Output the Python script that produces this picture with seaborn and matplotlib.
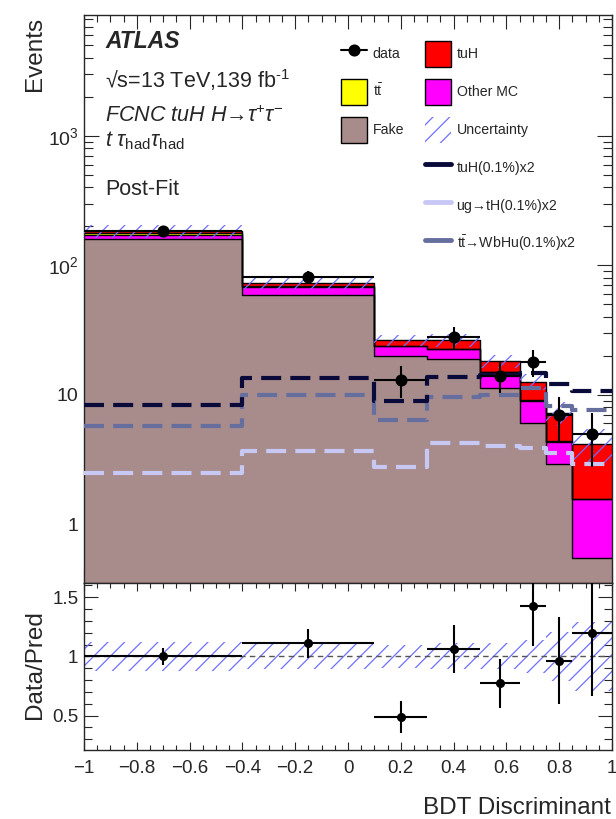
import numpy as np
import pandas as pd
import matplotlib
matplotlib.use("Agg")
import matplotlib.pyplot as plt
import seaborn as sns
from matplotlib.patches import Patch
from matplotlib.lines import Line2D
from matplotlib.ticker import (FixedLocator, FixedFormatter, MultipleLocator,
                               FuncFormatter, NullFormatter, LogLocator)

# ---------------- data ----------------
bin_edges = [-1.0, -0.4, 0.1, 0.3, 0.5, 0.65, 0.75, 0.85, 1.0]
data_counts = [184, 81, 13, 28, 14, 18, 7, 5]

# post-fit background / signal stack (events per bin)
fake = [160.0, 59.3, 20.0, 18.8, 11.2, 6.0, 2.9, 0.55]
other_mc = [12.0, 8.1, 3.6, 3.7, 3.7, 3.0, 1.4, 1.0]
ttbar = [6.0, 2.3, 0.3, 0.2, 0.1, 0.1, 0.05, 0.02]
tuh = [6.0, 3.3, 2.6, 3.6, 3.1, 3.5, 2.9, 2.6]

# relative total uncertainty of the prediction
rel_unc = [0.12, 0.105, 0.10, 0.11, 0.11, 0.14, 0.21, 0.29]

# signal templates, BR = 0.1 %, scaled by 2
sig_tuh = [8.3, 13.4, 9.0, 13.8, 14.3, 14.8, 12.1, 10.6]
sig_ugth = [2.5, 3.64, 2.74, 4.23, 4.03, 3.87, 3.54, 2.92]
sig_ttwbhu = [5.75, 9.86, 6.4, 9.58, 9.98, 11.2, 8.2, 7.6]

process_names = ["Fake", "Other MC", "tt", "tuH"]
process_colors = {"Fake": "#A88C8C", "Other MC": "#FF00FF",
                  "tt": "#FFFF00", "tuH": "#FF0000"}
hatch_color = "#6f6fff"
col_tuh = "#0a0a3a"
col_ugth = "#c8c8f5"
col_ttwbhu = "#666e9e"

# ---------------- style ----------------
sns.set_style("ticks")
plt.rcParams["font.family"] = ["Liberation Sans", "DejaVu Sans"]
plt.rcParams["mathtext.fontset"] = "custom"
plt.rcParams["mathtext.rm"] = "Liberation Sans"
plt.rcParams["mathtext.it"] = "Liberation Sans:italic"
plt.rcParams["mathtext.bf"] = "Liberation Sans:bold"
plt.rcParams["hatch.linewidth"] = 0.9
plt.rcParams["axes.linewidth"] = 1.0

edges = np.array(bin_edges)
centers = 0.5 * (edges[1:] + edges[:-1])
half_w = 0.5 * (edges[1:] - edges[:-1])
data = np.array(data_counts, dtype=float)
components = {"Fake": fake, "Other MC": other_mc, "tt": ttbar, "tuH": tuh}
total = np.sum([np.array(v) for v in components.values()], axis=0)
unc = np.array(rel_unc)

stack_df = pd.DataFrame({
    "bdt": np.tile(centers, len(process_names)),
    "events": np.concatenate([components[p] for p in process_names]),
    "process": np.repeat(process_names, len(centers)),
})

fig = plt.figure(figsize=(6.16, 8.19), dpi=100)
W, H = 616.0, 819.0
ax = fig.add_axes([84 / W, 1 - 583 / H, 528 / W, 568 / H])
axr = fig.add_axes([84 / W, 1 - 750 / H, 528 / W, 167 / H])

# ---------------- main panel ----------------
ax.set_yscale("log")
sns.histplot(data=stack_df, x="bdt", weights="events", hue="process",
             hue_order=process_names[::-1], multiple="stack", bins=bin_edges,
             palette=process_colors, element="bars", alpha=1.0,
             linewidth=0, legend=False, ax=ax)

# black step outline on top of each stacked component
running = np.zeros(len(centers))
for p in process_names:
    running = running + np.array(components[p])
    sns.histplot(x=list(centers), weights=list(running), bins=bin_edges,
                 element="step", fill=False, color="black", linewidth=1.0,
                 ax=ax, zorder=2.5)

band_lo = total * (1 - unc)
band_hi = total * (1 + unc)
ax.fill_between(edges, np.r_[band_lo, band_lo[-1]], np.r_[band_hi, band_hi[-1]],
                step="post", facecolor="none", edgecolor=hatch_color,
                hatch="//", linewidth=0, zorder=3)

dash = (0, (4.8, 2.2))
for vals, col in [(sig_ttwbhu, col_ttwbhu), (sig_ugth, col_ugth), (sig_tuh, col_tuh)]:
    sns.histplot(x=list(centers), weights=vals, bins=bin_edges, element="step",
                 fill=False, color=col, linewidth=3.0, linestyle=dash, ax=ax,
                 zorder=4)

ax.errorbar(centers, data, xerr=half_w, yerr=np.sqrt(data), fmt="o",
            color="black", markersize=7.7, elinewidth=1.5, capsize=0, zorder=6)

ax.set_xlim(-1, 1)
ax.set_ylim(0.35, 8600)
ax.set_xlabel("")
ax.set_ylabel("")
ax.yaxis.set_major_locator(FixedLocator([1, 10, 100, 1000]))
ax.yaxis.set_major_formatter(FixedFormatter(["1", "10", "10$^{2}$", "10$^{3}$"]))
ax.yaxis.set_minor_locator(LogLocator(base=10, subs=np.arange(2, 10), numticks=20))
ax.yaxis.set_minor_formatter(NullFormatter())
ax.xaxis.set_major_locator(MultipleLocator(0.2))
ax.xaxis.set_minor_locator(MultipleLocator(0.05))
ax.tick_params(which="both", direction="in", top=True, right=True, width=0.8)
ax.tick_params(axis="x", which="major", length=10, labelbottom=False)
ax.tick_params(axis="x", which="minor", length=5)
ax.tick_params(axis="y", which="major", length=11, labelsize=14, pad=4)
ax.tick_params(axis="y", which="minor", length=6.5)

# ---------------- ratio panel ----------------
axr.fill_between(edges, np.r_[1 - unc, 1 - unc[-1]], np.r_[1 + unc, 1 + unc[-1]],
                 step="post", facecolor="none", edgecolor=hatch_color,
                 hatch="//", linewidth=0, zorder=2)
axr.axhline(1.0, color="#555555", linestyle=(0, (4, 3)), linewidth=1.0, zorder=3)
ratio = data / total
ratio_err = np.sqrt(data) / total
axr.errorbar(centers, ratio, xerr=half_w, yerr=ratio_err, fmt="o",
             color="black", markersize=5.5, elinewidth=1.5, capsize=0, zorder=5)
axr.set_xlim(-1, 1)
axr.set_ylim(0.21, 1.62)
axr.yaxis.set_major_locator(FixedLocator([0.5, 1.0, 1.5]))
axr.yaxis.set_major_formatter(FuncFormatter(lambda v, p: f"{v:g}"))
axr.yaxis.set_minor_locator(MultipleLocator(0.1))
axr.xaxis.set_major_locator(MultipleLocator(0.2))
axr.xaxis.set_minor_locator(MultipleLocator(0.05))
axr.xaxis.set_major_formatter(
    FuncFormatter(lambda v, p: f"{round(v, 6):g}".replace("-", "\u2212")))
axr.tick_params(which="both", direction="in", top=True, right=True, width=0.8)
axr.tick_params(axis="x", which="major", length=6, labelsize=13.5, pad=7)
axr.tick_params(axis="x", which="minor", length=3.3)
axr.tick_params(axis="y", which="major", length=10, labelsize=13.5, pad=4)
axr.tick_params(axis="y", which="minor", length=5.5)

# ---------------- axis titles ----------------
fig.text(35 / W, 1 - 17 / H, "Events", rotation=90, ha="center", va="top",
         fontsize=17.5)
fig.text(35 / W, 1 - 665 / H, "Data/Pred", rotation=90, ha="center",
         va="center", fontsize=17.5)
fig.text(611 / W, 1 - 814 / H, "BDT Discriminant", ha="right",
         va="baseline", fontsize=17.5)

# ---------------- labels ----------------
fig.text(105 / W, 1 - 48 / H, "ATLAS", fontsize=16.5, weight="bold",
         style="italic", va="baseline")
fig.text(105 / W, 1 - 88 / H, "\u221as=13 TeV,139 fb$^{\\text{-1}}$",
         fontsize=15.5, va="baseline")
fig.text(105 / W, 1 - 122 / H, "FCNC tuH H\u2192\u03c4$^{+}$\u03c4$^{-}$",
         fontsize=15.5, style="italic", va="baseline")
fig.text(105 / W, 1 - 146 / H, r"$t\ \tau_{\mathrm{had}}\tau_{\mathrm{had}}$",
         fontsize=15.5, va="baseline")
fig.text(105 / W, 1 - 195 / H, "Post-Fit", fontsize=15.5, va="baseline")

# ---------------- legends ----------------
leg_fs = 10.2
leg_kw = dict(frameon=False, fontsize=leg_fs, handlelength=1.83,
              handleheight=2.44, labelspacing=0.85, handletextpad=0.4,
              borderpad=0, borderaxespad=0, loc="upper left")
h_data = Line2D([], [], color="black", marker="o", markersize=7.7, linewidth=1.5)
h_tt = Patch(facecolor=process_colors["tt"], edgecolor="black", linewidth=1)
h_fake = Patch(facecolor=process_colors["Fake"], edgecolor="black", linewidth=1)
leg1 = ax.legend([h_data, h_tt, h_fake], ["data", r"$\mathrm{t\bar{t}}$", "Fake"],
                 bbox_to_anchor=(341 / W, 1 - 41 / H),
                 bbox_transform=fig.transFigure, **leg_kw)
ax.add_artist(leg1)
h_tuh = Patch(facecolor=process_colors["tuH"], edgecolor="black", linewidth=1)
h_oth = Patch(facecolor=process_colors["Other MC"], edgecolor="black", linewidth=1)
h_unc = Patch(facecolor="none", edgecolor=hatch_color, hatch="//", linewidth=0)
h_s1 = Line2D([], [], color=col_tuh, linewidth=3.5)
h_s2 = Line2D([], [], color=col_ugth, linewidth=3.5)
h_s3 = Line2D([], [], color=col_ttwbhu, linewidth=3.5)
ax.legend([h_tuh, h_oth, h_unc, h_s1, h_s2, h_s3],
          ["tuH", "Other MC", "Uncertainty", "tuH(0.1%)x2",
           "ug\u2192tH(0.1%)x2", r"$\mathrm{t\bar{t}}$" + "\u2192WbHu(0.1%)x2"],
          bbox_to_anchor=(425 / W, 1 - 41 / H),
          bbox_transform=fig.transFigure, **leg_kw)

fig.savefig("out.png", dpi=100)
